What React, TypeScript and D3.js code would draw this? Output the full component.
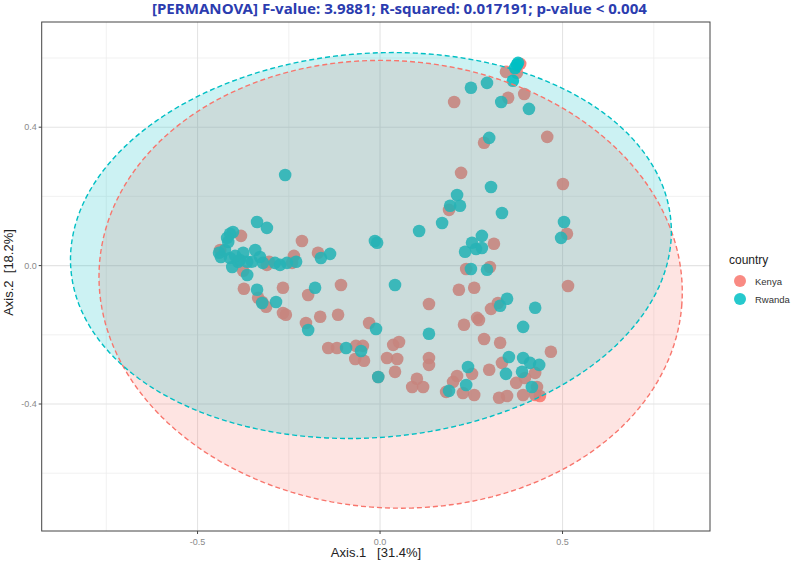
import React from "react";
import * as d3 from "d3";

// PCoA coordinates per country (Axis.1, Axis.2)
const kenya: [number, number][] = [
  [0.384, 0.583], [0.345, 0.56], [0.375, 0.557], [0.203, 0.473], [0.351, 0.485],
  [0.395, 0.496], [0.285, 0.355], [0.458, 0.372], [0.222, 0.268], [0.501, 0.236],
  [0.189, 0.161], [0.512, 0.092], [0.312, 0.063], [0.236, -0.01], [0.301, -0.004],
  [0.216, -0.07], [0.258, -0.064], [0.515, -0.059], [0.134, -0.111], [0.323, -0.108],
  [0.304, -0.125], [0.266, -0.151], [0.271, -0.157], [0.23, -0.171], [0.285, -0.212],
  [0.329, -0.223], [0.468, -0.249], [0.134, -0.267], [0.134, -0.287], [0.334, -0.281],
  [0.425, -0.31], [0.373, -0.339], [0.397, -0.325], [0.299, -0.301], [0.252, -0.313],
  [0.211, -0.319], [0.2, -0.336], [0.101, -0.327], [0.088, -0.351], [0.118, -0.351],
  [0.181, -0.365], [0.227, -0.368], [0.258, -0.374], [0.326, -0.382], [0.348, -0.377],
  [0.43, -0.351], [0.438, -0.377], [0.425, -0.374], [0.392, -0.374], [0.036, -0.229],
  [0.052, -0.221], [0.019, -0.267], [0.047, -0.27], [0.041, -0.307], [-0.005, -0.322],
  [-0.03, -0.166], [-0.142, -0.238], [-0.118, -0.238], [-0.066, -0.232], [-0.047, -0.232],
  [-0.068, -0.27], [-0.044, -0.275], [-0.115, -0.142], [-0.164, -0.148], [-0.203, -0.166],
  [-0.107, -0.056], [-0.197, -0.085], [-0.266, -0.064], [-0.266, -0.137], [-0.258, -0.142],
  [-0.312, -0.119], [-0.323, -0.105], [-0.334, -0.093], [-0.373, -0.067], [-0.375, -0.015],
  [-0.214, 0.071], [-0.17, 0.037], [-0.236, 0.028], [-0.241, 0.008], [-0.31, 0.002],
  [-0.304, 0.011], [-0.381, 0.086], [-0.438, 0.045],
];

const rwanda: [number, number][] = [
  [0.375, 0.58], [0.37, 0.571], [0.378, 0.586], [0.364, 0.534], [0.249, 0.514],
  [0.293, 0.528], [0.332, 0.473], [0.408, 0.453], [0.299, 0.369], [0.304, 0.227],
  [0.211, 0.204], [0.219, 0.173], [0.192, 0.173], [0.17, 0.123], [0.334, 0.152],
  [0.504, 0.126], [0.107, 0.1], [0.496, 0.08], [0.279, 0.086], [0.252, 0.066],
  [0.263, 0.048], [0.279, 0.051], [0.233, 0.04], [0.249, -0.01], [0.293, -0.012],
  [0.041, -0.056], [0.348, -0.096], [0.329, -0.116], [0.425, -0.122], [0.392, -0.177],
  [0.134, -0.197], [0.353, -0.264], [0.392, -0.267], [0.411, -0.281], [0.436, -0.287],
  [0.345, -0.313], [0.389, -0.307], [0.241, -0.293], [0.236, -0.345], [0.189, -0.362],
  [0.416, -0.351], [-0.011, -0.183], [-0.005, -0.322], [-0.093, -0.238], [-0.052, -0.247],
  [-0.197, -0.186], [-0.014, 0.071], [-0.008, 0.066], [-0.137, 0.034], [-0.162, 0.022],
  [-0.178, -0.064], [-0.26, 0.262], [-0.337, 0.126], [-0.31, 0.109], [-0.411, 0.092],
  [-0.403, 0.097], [-0.419, 0.08], [-0.416, 0.068], [-0.441, 0.037], [-0.436, 0.025],
  [-0.411, 0.022], [-0.405, -0.004], [-0.375, 0.037], [-0.342, 0.045], [-0.329, 0.025],
  [-0.384, 0.016], [-0.364, 0.011], [-0.351, 0.011], [-0.321, 0.008], [-0.364, -0.027],
  [-0.288, 0.008], [-0.274, 0.002], [-0.255, 0.008], [-0.23, 0.011], [-0.337, -0.07],
  [-0.323, -0.108], [-0.285, -0.105], [-0.425, 0.045], [-0.389, 0.011], [-0.397, 0.028],
];

// 95% ellipses: [centre x, centre y, radius x, radius y, rotation]
const kenyaEllipse = [0.029, -0.054, 0.8, 0.646, -0.08];
const rwandaEllipse = [-0.025, 0.058, 0.825, 0.555, 0.09];

const groups = ["Kenya", "Rwanda"];
const colors = ["#F8766D", "#00BFC4"];

const xMajor = [-0.5, 0, 0.5];
const xMinor = [-0.75, -0.25, 0.25, 0.75];
const yMajor = [-0.4, 0, 0.4];
const yMinor = [-0.6, -0.2, 0.2, 0.6];

const title = "[PERMANOVA] F-value: 3.9881; R-squared: 0.017191; p-value < 0.004";

const W = 794;
const H = 563;
const panel = { left: 41.7, right: 710, top: 22, bottom: 531 };

const x = d3.scaleLinear().domain([-0.927, 0.904]).range([panel.left, panel.right]);
const y = d3.scaleLinear().domain([-0.767, 0.704]).range([panel.bottom, panel.top]);

const fmt = (v: number) => v.toFixed(1);

function ellipsePath(e: number[]) {
  const [cx, cy, rx, ry, rot] = e;
  const pts: [number, number][] = d3.range(0, 2 * Math.PI, Math.PI / 90).map((t) => {
    const ex = rx * Math.cos(t);
    const ey = ry * Math.sin(t);
    return [cx + ex * Math.cos(rot) - ey * Math.sin(rot), cy + ex * Math.sin(rot) + ey * Math.cos(rot)];
  });
  return d3
    .line<[number, number]>()
    .x((d) => x(d[0]))
    .y((d) => y(d[1]))
    .curve(d3.curveLinearClosed)(pts) as string;
}

const font = "Liberation Sans, Arial, sans-serif";

export default function App() {
  const series = [kenya, rwanda];
  const ellipses = [kenyaEllipse, rwandaEllipse];
  return (
    <svg
      width={W}
      height={H}
      style={{ position: "absolute", left: 0, top: 0, background: "#fff" }}
      fontFamily={font}
    >
      <defs>
        <clipPath id="panel-clip">
          <rect x={panel.left} y={panel.top} width={panel.right - panel.left} height={panel.bottom - panel.top} />
        </clipPath>
      </defs>

      {/* grid */}
      <g>
        {xMinor.map((v) => (
          <line key={"xm" + v} x1={x(v)} x2={x(v)} y1={panel.top} y2={panel.bottom} stroke="#eeeeee" strokeWidth={0.8} />
        ))}
        {yMinor.map((v) => (
          <line key={"ym" + v} y1={y(v)} y2={y(v)} x1={panel.left} x2={panel.right} stroke="#eeeeee" strokeWidth={0.8} />
        ))}
        {xMajor.map((v) => (
          <line key={"xM" + v} x1={x(v)} x2={x(v)} y1={panel.top} y2={panel.bottom} stroke="#e4e4e4" strokeWidth={1.1} />
        ))}
        {yMajor.map((v) => (
          <line key={"yM" + v} y1={y(v)} y2={y(v)} x1={panel.left} x2={panel.right} stroke="#e4e4e4" strokeWidth={1.1} />
        ))}
      </g>

      <g clipPath="url(#panel-clip)">
        {/* points */}
        {series.map((pts, gi) => (
          <g key={groups[gi]}>
            {pts.map((d, i) => (
              <circle key={i} cx={x(d[0])} cy={y(d[1])} r={6.3} fill={colors[gi]} fillOpacity={0.88} />
            ))}
          </g>
        ))}
        {/* ellipses */}
        {ellipses.map((e, gi) => (
          <path key={"f" + gi} d={ellipsePath(e)} fill={colors[gi]} fillOpacity={0.2} stroke="none" />
        ))}
        {ellipses.map((e, gi) => (
          <path
            key={"s" + gi}
            d={ellipsePath(e)}
            fill="none"
            stroke={colors[gi]}
            strokeWidth={1.4}
            strokeDasharray="5,3"
          />
        ))}
      </g>

      {/* panel border */}
      <rect
        x={panel.left}
        y={panel.top}
        width={panel.right - panel.left}
        height={panel.bottom - panel.top}
        fill="none"
        stroke="#444"
        strokeWidth={1}
      />

      {/* x axis */}
      {xMajor.map((v) => (
        <g key={"xt" + v}>
          <line x1={x(v)} x2={x(v)} y1={panel.bottom} y2={panel.bottom + 3} stroke="#444" />
          <text x={x(v)} y={panel.bottom + 13.5} textAnchor="middle" fontSize={9} fill="#8a8a8a">
            {fmt(v)}
          </text>
        </g>
      ))}
      {/* y axis */}
      {yMajor.map((v) => (
        <g key={"yt" + v}>
          <line x1={panel.left - 3} x2={panel.left} y1={y(v)} y2={y(v)} stroke="#444" />
          <text x={panel.left - 5} y={y(v) + 3.2} textAnchor="end" fontSize={9} fill="#8a8a8a">
            {fmt(v)}
          </text>
        </g>
      ))}

      <text x={376} y={557} textAnchor="middle" fontSize={13} fill="#222" style={{ whiteSpace: "pre" }}>
        {"Axis.1   [31.4%]"}
      </text>
      <text
        transform={`translate(12.5,${(panel.top + panel.bottom) / 2 - 4}) rotate(-90)`}
        textAnchor="middle"
        fontSize={13}
        fill="#222"
        style={{ whiteSpace: "pre" }}
      >
        {"Axis.2  [18.2%]"}
      </text>

      {/* legend */}
      <text x={729} y={264} fontSize={12} fill="#222">
        country
      </text>
      {groups.map((g, i) => (
        <g key={g}>
          <circle cx={740} cy={281 + i * 18} r={6} fill={colors[i]} fillOpacity={0.85} />
          <text x={755} y={284.5 + i * 18} fontSize={9.5} fill="#333">
            {g}
          </text>
        </g>
      ))}

      {/* title */}
      <text
        x={399.5}
        y={14}
        textAnchor="middle"
        fontSize={13.5}
        fontWeight="bold"
        fill="#2b3caf"
        fontFamily="Noto Sans, Open Sans, sans-serif"
        textLength={495}
        lengthAdjust="spacingAndGlyphs"
      >
        {title}
      </text>
    </svg>
  );
}
